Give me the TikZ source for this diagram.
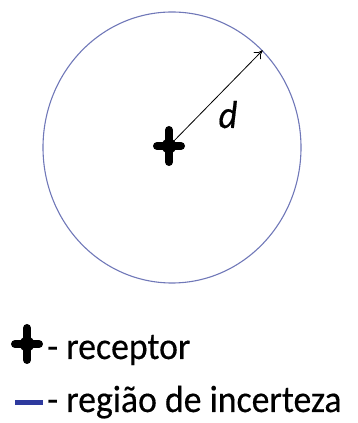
\documentclass[tikz,border=0pt]{standalone}
\usepackage{fontspec}
\setmainfont{Carlito}
\newfontfamily\legendfont[FakeStretch=0.94,FakeBold=0.4]{Carlito}
\definecolor{regionblue}{HTML}{7078B8}
\definecolor{dashblue}{HTML}{2E3A9E}
\usetikzlibrary{arrows.meta,shapes.geometric,positioning}
\tikzset{
  region_box/.style={ellipse,draw=regionblue,line width=1.1pt,inner sep=0pt,
    minimum width=258pt,minimum height=271pt},
  cross_mark/.style={rectangle,inner sep=0pt,minimum width=36pt,minimum height=44pt,
    path picture={
      \draw[line width=8pt,line cap=round]
        ([xshift=-12pt]path picture bounding box.center)--([xshift=12pt]path picture bounding box.center)
        ([yshift=-16pt]path picture bounding box.center)--([yshift=16pt]path picture bounding box.center);
      \fill (path picture bounding box.center) circle (7.5pt);}},
  legend_txt/.style={anchor=base west,inner sep=0pt,font=\legendfont\fontsize{38}{44}\selectfont},
  arr/.style={-{To[length=8pt,width=10pt]},draw=black,line width=0.8pt},
}

\begin{document}
\begin{tikzpicture}[x=1pt,y=1pt]
    \useasboundingbox (0,0) rectangle (357,423);
    \node[region_box] (regiao) at (172,275.5) {};
    \node[cross_mark] (rec) at (169,277) {};
    \draw[arr](rec.center)--(regiao.47);
    \node[anchor=base,inner sep=0pt,font=\legendfont\itshape\fontsize{39}{44}\selectfont] (d) at (228,295) {d};

    % legend
    \node[cross_mark] (leg_rec) at (27,79) {};
    \node[legend_txt] (txt_rec) at (47,64) {- receptor};
    \coordinate (dash_a) at (15,20);
    \coordinate (dash_b) at (43,20);
    \draw[dashblue,line width=5pt](dash_a)--(dash_b);
    \node[legend_txt] (txt_reg) at (47,11) {- região de incerteza};
\end{tikzpicture}
\end{document}
